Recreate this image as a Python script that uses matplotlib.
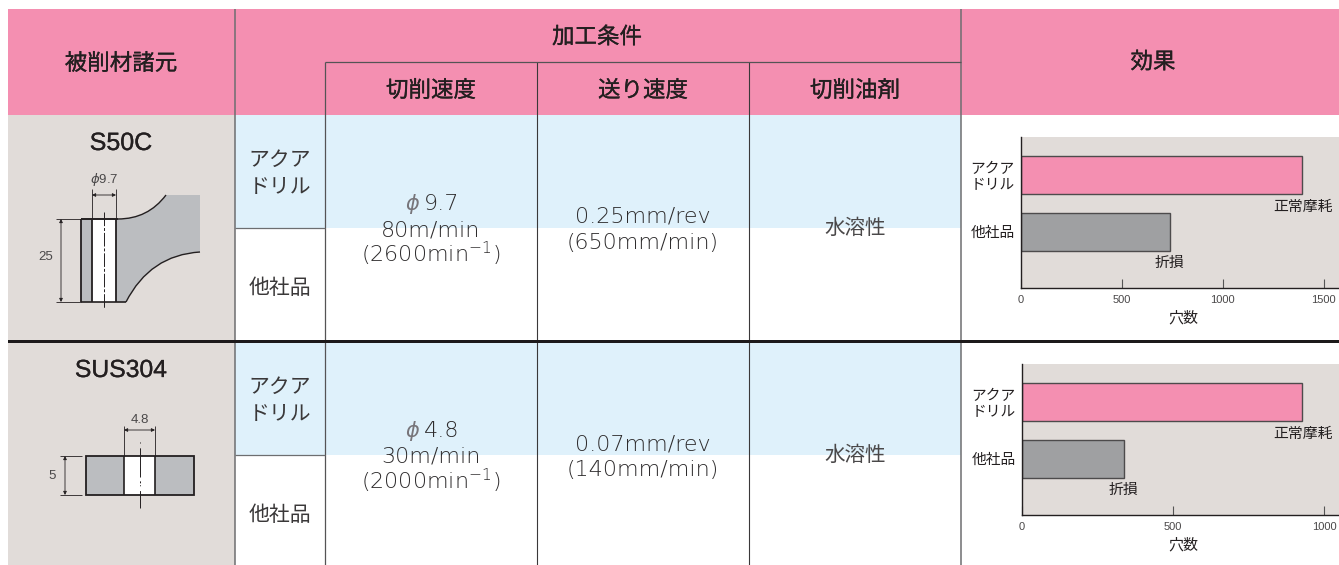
import matplotlib
matplotlib.use("Agg")
import matplotlib.pyplot as plt
import matplotlib.patheffects as pe
from matplotlib.patches import Rectangle, PathPatch
from matplotlib.path import Path

# ---- data ----
products = ["アクア\nドリル", "他社品"]
s50c_holes = [1394, 738]
sus304_holes = [926, 337]
s50c_ticks = [0, 500, 1000, 1500]
sus304_ticks = [0, 500, 1000]
result_labels = ["正常摩耗", "折損"]
x_title = "穴数"
top_headers = ["被削材諸元", "加工条件", "効果"]
sub_headers = ["切削速度", "送り速度", "切削油剤"]
materials = ["S50C", "SUS304"]
phi = r"$\mathit{\phi}$"
speeds_a = ["9.7", "80m/min", "(2600min$^{-1}$)"]
speeds_b = ["4.8", "30m/min", "(2000min$^{-1}$)"]
feeds_a = ["0.25mm/rev", "(650mm/min)"]
feeds_b = ["0.07mm/rev", "(140mm/min)"]
coolant = "水溶性"

JP = ["Noto Sans CJK JP", "DejaVu Sans"]
LAT = ["Liberation Sans", "Noto Sans CJK JP"]
plt.rcParams["font.family"] = LAT
plt.rcParams["mathtext.fontset"] = "custom"
plt.rcParams["mathtext.it"] = "DejaVu Sans:italic"
plt.rcParams["mathtext.rm"] = "DejaVu Sans"
plt.rcParams["mathtext.default"] = "regular"

PINK = "#F48FB1"
GREYBG = "#E1DCD9"
BLUE = "#DFF1FB"
BODY = "#BBBDC0"
BARGREY = "#9FA0A2"
INK = "#231F20"
RULE = "#6D6E70"
DARK = "#3A3839"
HEAVY = [pe.withStroke(linewidth=0.2, foreground=INK)]

W, H = 1339, 565
fig = plt.figure(figsize=(W / 100, H / 100), dpi=100, facecolor="white")
ax = fig.add_axes([0, 0, 1, 1])
ax.set_xlim(0, W)
ax.set_ylim(H, 0)
ax.axis("off")


def rect(x0, y0, x1, y1, fc, ec="none", lw=0, z=1):
    ax.add_patch(Rectangle((x0, y0), x1 - x0, y1 - y0, fc=fc, ec=ec, lw=lw, zorder=z))


def line(xs, ys, c=RULE, lw=1.0, z=3, **kw):
    ax.plot(xs, ys, color=c, lw=lw, zorder=z, solid_capstyle="butt", **kw)


def txt(x, y, s, size=15, fam=JP, **kw):
    ax.text(x, y, s, fontsize=size, family=fam, color=kw.pop("color", INK), ha=kw.pop("ha", "center"),
            va=kw.pop("va", "center"), linespacing=kw.pop("linespacing", 1.0), zorder=6, **kw)


def dim_arrow(p, q):
    ax.annotate("", p, q, arrowprops=dict(arrowstyle="<|-|>", lw=0.6, color=INK, mutation_scale=5,
                                          shrinkA=0, shrinkB=0), zorder=4)


# backgrounds
rect(8, 9, W, 114.5, PINK)
rect(8, 114.5, 235, 340, GREYBG)
rect(8, 343, 235, H, GREYBG)
rect(235, 114.5, 961, 228, BLUE)
rect(235, 343, 961, 455, BLUE)
rect(8, 340, W, 343, "#1D1A1B", z=4)

# rules
for x in (235, 961):
    line([x, x], [9, H], lw=1.1)
line([325, 325], [62, H], c="#555355", lw=0.9)
for x in (537, 749):
    line([x, x], [62, H], c=DARK, lw=0.8)
line([325, 961], [62, 62], c="#555355", lw=0.9)
line([235, 325], [228, 228], lw=0.9)
line([235, 325], [455, 455], lw=0.9)

# headers
txt(121, 63.5, top_headers[0], 16.2, path_effects=HEAVY)
txt(597, 37, top_headers[1], 16.2, path_effects=HEAVY)
txt(1153, 62, top_headers[2], 16.2, path_effects=HEAVY)
for cx, s in zip((431, 643, 855), sub_headers):
    txt(cx, 90.5, s, 16.2, path_effects=HEAVY)

# rows
txt(121, 143, materials[0], 18, LAT, path_effects=HEAVY)
txt(121, 370, materials[1], 17.8, LAT, path_effects=HEAVY)
for y0 in (173.5, 400.5):
    txt(280, y0, products[0], 15, linespacing=1.27, color=DARK)
for y0 in (287.5, 515):
    txt(280, y0, products[1], 15, color=DARK)

LIGHT = dict(fontweight="light", va="baseline", color="#2E2C2D")
for off, sp, fd in ((0, speeds_a, feeds_a), (227, speeds_b, feeds_b)):
    txt(413, 210 + off, phi, 15, ["DejaVu Sans"], va="baseline", color="#77757A")
    txt(442, 210 + off, sp[0], 16, ["DejaVu Sans"], **LIGHT)
    for yb, s in zip((236, 262), sp[1:]):
        txt(431, yb + off, s, 16, ["DejaVu Sans"], **LIGHT)
    for yb, s in zip((223, 249), fd):
        txt(643, yb + off, s, 16, ["DejaVu Sans"], **LIGHT)
    txt(855, 228 + off, coolant, 14.8, color="#4A4849")

# S50C drawing
up = [(118, 219), (148, 219), (166, 195)]
low = [(200, 252), (150, 255), (126, 302)]
body = Path(
    [(116, 219)] + up + [(200, 195)] + low + [(116, 302), (116, 219)],
    [Path.MOVETO, Path.LINETO, Path.CURVE3, Path.CURVE3, Path.LINETO, Path.LINETO,
     Path.CURVE3, Path.CURVE3, Path.LINETO, Path.CLOSEPOLY],
)
ax.add_patch(PathPatch(body, fc=BODY, ec="none", zorder=2))
rect(81, 219, 92, 302, BODY, z=2)
rect(92, 219, 116, 302, "white", z=2)
line([81, 118], [219, 219], INK, 1.4)
line([81, 126], [302, 302], INK, 1.2)
for x in (81, 92, 116):
    line([x, x], [219, 302], INK, 1.3)
for pts in (up, low):
    ax.add_patch(PathPatch(Path(pts, [Path.MOVETO, Path.CURVE3, Path.CURVE3]),
                           fc="none", ec=INK, lw=1.0, zorder=3))
line([104, 104], [212, 309], INK, 0.7, dashes=(14, 2, 3, 2))
line([92, 92], [189, 219], INK, 0.6)
line([116, 116], [189, 219], INK, 0.6)
dim_arrow((92, 195), (116, 195))
line([56, 81], [219, 219], INK, 0.6)
line([56, 81], [302, 302], INK, 0.6)
dim_arrow((61, 219), (61, 302))
txt(46, 257, "25", 9.5, LAT, color="#4A4849")
txt(104, 180, phi + "9.7", 9.5, LAT, color="#4A4849")

# SUS304 drawing
rect(86, 456, 194, 495, BODY, z=2)
rect(124, 456, 155, 495, "white", z=2)
ax.add_patch(Rectangle((86, 456), 108, 39, fc="none", ec=INK, lw=1.3, zorder=3))
for x in (124, 155):
    line([x, x], [456, 495], INK, 1.2)
line([140, 140], [442, 508], INK, 0.7, dashes=(1, 5, 30, 4, 2, 2))
line([124, 124], [426, 456], INK, 0.6)
line([155, 155], [426, 456], INK, 0.6)
dim_arrow((124, 430), (155, 430))
line([60, 82], [456, 456], INK, 0.6)
line([60, 82], [495, 495], INK, 0.6)
dim_arrow((65, 456), (65, 495))
txt(52, 476, "5", 9.5, LAT, color="#4A4849")
txt(140, 420, "4.8", 9.5, LAT, color="#4A4849")


def chart(x0, ytop, ybot, xmax, ticks, vals):
    a = fig.add_axes([x0 / W, 1 - ybot / H, (W - x0) / W, (ybot - ytop) / H], facecolor=GREYBG, zorder=5)
    a.set_xlim(0, xmax)
    a.set_ylim(ybot - ytop, 0)
    height = 38
    centers = [(19 + height / 2) + i * 56.7 for i in range(2)]
    a.barh(centers, vals, height=height, color=[PINK, BARGREY], edgecolor="#4D4B4C", linewidth=1.0)
    for s in ("top", "right"):
        a.spines[s].set_visible(False)
    for s in ("left", "bottom"):
        a.spines[s].set_linewidth(1.0)
        a.spines[s].set_color(INK)
    a.set_xticks(ticks)
    a.set_xticklabels([str(t) for t in ticks], fontsize=8, family=LAT, color="#4A4849")
    a.tick_params(axis="x", direction="in", length=6.5, width=0.8, color="#555555", pad=5)
    a.set_yticks(centers)
    a.set_yticklabels(products, fontsize=10.6, family=JP, color=INK, linespacing=1.15, ha="center")
    a.tick_params(axis="y", length=0, pad=20.5)
    a.set_xlabel(x_title, fontsize=10.8, family=JP, color=INK)
    a.xaxis.set_label_coords((1183.5 - x0) / (W - x0), -0.153)
    a.text(1.0 - 6.5 / (W - x0), centers[0] + 32, result_labels[0], transform=a.get_yaxis_transform(),
           fontsize=10.7, family=JP, color=INK, ha="right", va="center", clip_on=False)
    a.text(vals[1], centers[1] + 31.5, result_labels[1], fontsize=10.7, family=JP, color=INK,
           ha="center", va="center", clip_on=False)
    return a


chart(1021, 137, 288, 1576, s50c_ticks, s50c_holes)
chart(1022, 364, 515, 1048, sus304_ticks, sus304_holes)

fig.savefig("out.png", dpi=100, facecolor="white")
